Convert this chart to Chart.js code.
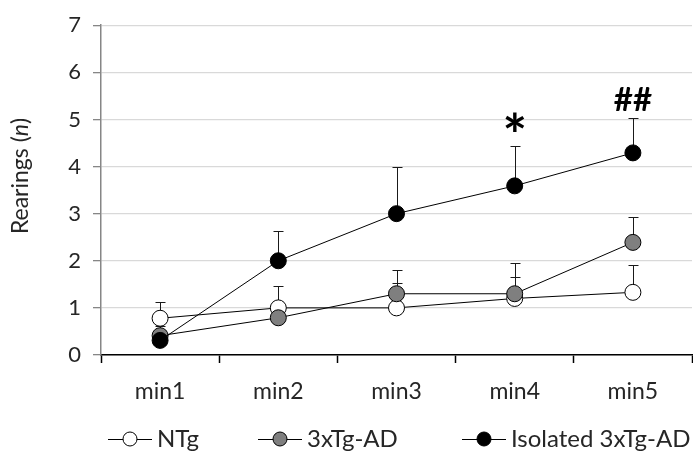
<!DOCTYPE html>
<html>
<head>
<meta charset="utf-8">
<script src="https://cdn.jsdelivr.net/npm/chart.js@4.4.0/dist/chart.umd.min.js"></script>
<style>
  html, body { margin: 0; padding: 0; background: #fff; overflow: hidden; }
  #wrap { width: 701px; height: 454px; }
</style>
</head>
<body>
<div id="wrap"><canvas id="grafico"></canvas></div>
<script>
const categorias = ["min1", "min2", "min3", "min4", "min5"];
const ntg = [0.78, 1.0, 1.0, 1.2, 1.33];
const ntgErro = [0.35, 0.46, 0.53, 0.46, 0.58];
const tg = [0.41, 0.79, 1.3, 1.3, 2.39];
const tgErro = [0.2, 0.25, 0.5, 0.65, 0.53];
const isolado = [0.31, 2.0, 3.0, 3.59, 4.29];
const isoladoErro = [0.1, 0.64, 1.0, 0.84, 0.73];
const significancia = ["", "", "", "*", "##"];
const rotulos = ["NTg", "3xTg-AD", "Isolated 3xTg-AD"];
const coresPonto = ["#ffffff", "#7f7f7f", "#000000"];

const FONTE = "Lato";

// barras de erro (so para cima), desenhadas antes dos pontos
const erroPlugin = {
  id: "erro",
  beforeDatasetsDraw(chart) {
    const ctx = chart.ctx;
    const y = chart.scales.y;
    ctx.save();
    ctx.lineWidth = 1;
    ctx.strokeStyle = "#1a1a1a";
    chart.data.datasets.forEach((ds, i) => {
      const meta = chart.getDatasetMeta(i);
      meta.data.forEach((pt, j) => {
        const topo = Math.round(y.getPixelForValue(ds.data[j] + ds.erro[j])) + 0.5;
        const x = Math.round(pt.x) + 0.5;
        ctx.beginPath();
        ctx.moveTo(x, pt.y);
        ctx.lineTo(x, topo);
        ctx.moveTo(x - 5, topo);
        ctx.lineTo(x + 5, topo);
        ctx.stroke();
      });
    });
    ctx.restore();
  },
  afterDatasetsDraw(chart) {
    const ctx = chart.ctx;
    const y = chart.scales.y;
    const x = chart.scales.x;
    ctx.save();
    ctx.fillStyle = "#000";
    ctx.textAlign = "center";
    ctx.textBaseline = "middle";
    significancia.forEach((txt, j) => {
      if (!txt) return;
      let maior = 0;
      chart.data.datasets.forEach((ds) => {
        maior = Math.max(maior, ds.data[j] + ds.erro[j]);
      });
      const py = y.getPixelForValue(maior);
      if (txt === "*") {
        ctx.font = "bold 58px " + FONTE;
        ctx.fillText(txt, x.getPixelForValue(j), py - 9);
      } else {
        ctx.font = "bold 33px " + FONTE;
        ctx.fillText(txt, x.getPixelForValue(j), py - 18);
      }
    });
    ctx.restore();
  },
  afterDraw(chart) {
    const ctx = chart.ctx;
    ctx.save();
    // titulo do eixo y com n em italico
    ctx.translate(21, 176);
    ctx.rotate(-Math.PI / 2);
    ctx.fillStyle = "#262626";
    ctx.textBaseline = "middle";
    const partes = [["Rearings (", ""], ["n", "italic "], [")", ""]];
    let total = 0;
    partes.forEach((p) => {
      ctx.font = p[1] + "23px " + FONTE;
      total += ctx.measureText(p[0]).width;
    });
    let px = -total / 2;
    partes.forEach((p) => {
      ctx.font = p[1] + "23px " + FONTE;
      ctx.fillText(p[0], px, 0);
      px += ctx.measureText(p[0]).width;
    });
    ctx.restore();

    // legenda
    ctx.save();
    const inicio = [108, 258, 462];
    const ly = 439;
    ctx.font = "24px " + FONTE;
    ctx.textBaseline = "middle";
    chart.data.datasets.forEach((ds, i) => {
      const x0 = inicio[i];
      ctx.strokeStyle = "#000";
      ctx.lineWidth = 1;
      ctx.beginPath();
      ctx.moveTo(x0, ly + 0.5);
      ctx.lineTo(x0 + 44, ly + 0.5);
      ctx.stroke();
      ctx.beginPath();
      ctx.arc(x0 + 22, ly, 7, 0, Math.PI * 2);
      ctx.fillStyle = ds.pointBackgroundColor;
      ctx.fill();
      ctx.stroke();
      ctx.fillStyle = "#262626";
      ctx.fillText(ds.label, x0 + 49, ly);
    });
    ctx.restore();
  },
};

function serie(label, dados, erro, cor, ordem) {
  return {
    label: label,
    data: dados,
    erro: erro,
    borderColor: "#000",
    borderWidth: 1,
    pointRadius: 8,
    pointHoverRadius: 8,
    pointBackgroundColor: cor,
    pointBorderColor: "#000",
    pointBorderWidth: 1,
    tension: 0,
    fill: false,
    order: ordem,
  };
}

const ctx = document.getElementById("grafico").getContext("2d");
new Chart(ctx, {
  type: "line",
  data: {
    labels: categorias,
    datasets: [
      serie(rotulos[0], ntg, ntgErro, coresPonto[0], 3),
      serie(rotulos[1], tg, tgErro, coresPonto[1], 2),
      serie(rotulos[2], isolado, isoladoErro, coresPonto[2], 1),
    ],
  },
  options: {
    responsive: true,
    maintainAspectRatio: false,
    animation: false,
    layout: { padding: { top: 10, right: 0, bottom: 44, left: 0 } },
    plugins: {
      legend: { display: false },
      tooltip: { enabled: false },
    },
    scales: {
      x: {
        offset: true,
        grid: {
          offset: true,
          drawOnChartArea: false,
          drawTicks: true,
          tickLength: 8,
          tickColor: "#000",
          tickWidth: 1.5,
        },
        border: { color: "#000", width: 1.5 },
        ticks: {
          color: "#262626",
          font: { family: FONTE, size: 23 },
          padding: 15,
        },
        afterFit(s) { s.height = 55; },
      },
      y: {
        min: 0,
        max: 7,
        ticks: {
          stepSize: 1,
          color: "#262626",
          font: { family: FONTE, size: 22 },
          padding: 12,
        },
        grid: {
          color: "#d9d9d9",
          lineWidth: 1.3,
          tickColor: "#868686",
          tickLength: 8,
        },
        border: { color: "#868686", width: 1.5 },
        afterFit(s) { s.width = 101; },
      },
    },
  },
  plugins: [erroPlugin],
});
</script>
</body>
</html>
